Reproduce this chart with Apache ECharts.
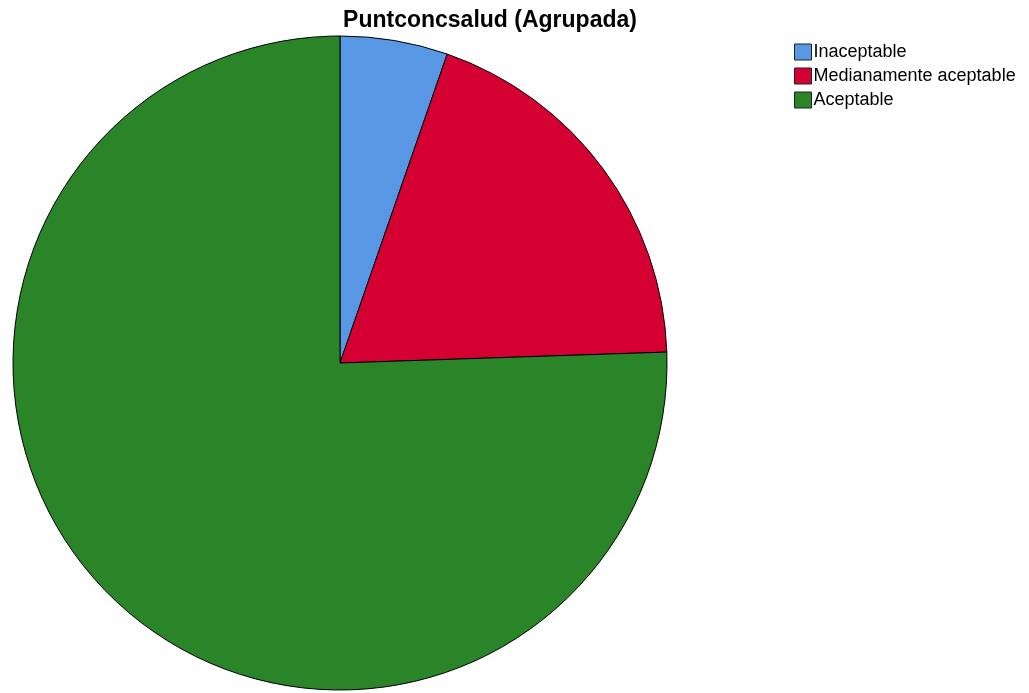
<!DOCTYPE html>
<html><head><meta charset="utf-8">
<script src="https://cdn.jsdelivr.net/npm/echarts@6/dist/echarts.min.js"></script>
<style>html,body{margin:0;padding:0;background:#fff}#c{width:1029px;height:693px}</style>
</head><body><div id="c"></div>
<script>
const categories = ["Inaceptable", "Medianamente aceptable", "Aceptable"];
const counts = [5, 18, 71];
const colors = ["#5797e4", "#d50032", "#2a8428"];
const titleText = "Puntconcsalud (Agrupada)";

const chart = echarts.init(document.getElementById('c'));
chart.setOption({
  animation: false,
  backgroundColor: '#fff',
  title: {
    text: titleText, left: 485, top: 4, textAlign: 'center',
    textStyle: {fontFamily: 'Liberation Sans, Arial, sans-serif', fontSize: 23, fontWeight: 'bold', color: '#000'}
  },
  legend: {
    orient: 'vertical', left: 789, top: 38, itemWidth: 17, itemHeight: 16, itemGap: 6,
    icon: 'rect',
    textStyle: {fontFamily: 'Liberation Sans, Arial, sans-serif', fontSize: 18, lineHeight: 18, color: '#000', padding: [0,0,0,-3]},
    itemStyle: {borderColor: '#222', borderWidth: 1},
    data: categories
  },
  series: [{
    type: 'pie', center: [340, 363], radius: 327, startAngle: 90, clockwise: true,
    label: {show: false}, labelLine: {show: false}, silent: true,
    itemStyle: {borderColor: '#000', borderWidth: 1},
    data: categories.map((c, i) => ({name: c, value: counts[i], itemStyle: {color: colors[i]}}))
  }]
});
</script></body></html>
